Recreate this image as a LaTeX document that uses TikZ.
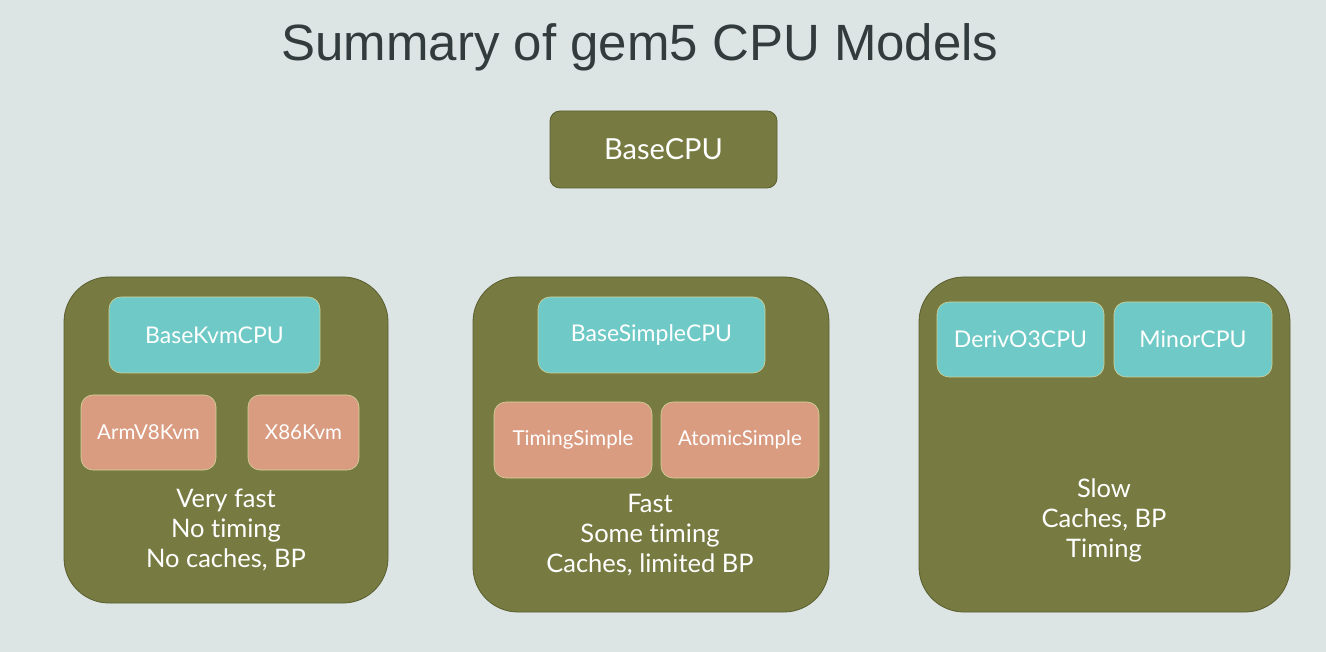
\documentclass[tikz,border=0pt]{standalone}
\usepackage{fontspec}
\setmainfont[Ligatures={NoCommon,NoRequired,NoContextual}]{Lato}
\newfontfamily\titlefont{Liberation Sans}
\definecolor{bgc}{HTML}{DCE4E4}
\definecolor{olive}{HTML}{777B41}
\definecolor{olivedark}{HTML}{5A5D2E}
\definecolor{tealc}{HTML}{6FC9C6}
\definecolor{salmon}{HTML}{DA9C81}
\definecolor{edgec}{HTML}{D2D39A}
\definecolor{titlec}{HTML}{323C3C}
\tikzset{
  groupbox/.style={draw=olivedark, line width=0.8pt, fill=olive, rounded corners=45pt, inner sep=0pt},
  basebox/.style={draw=olivedark, line width=0.8pt, fill=olive, rounded corners=10pt, inner sep=0pt, text=white, font=\fontsize{29}{34}\selectfont},
  tealbox/.style={draw=edgec, line width=0.6pt, fill=tealc, rounded corners=12pt, inner sep=0pt, text=white, font=\fontsize{23}{27}\selectfont},
  salmonbox/.style={draw=edgec, line width=0.6pt, fill=salmon, rounded corners=12pt, inner sep=0pt, text=white, font=\fontsize{20.5}{24}\selectfont},
  notes/.style={text=white, align=center, inner sep=0pt, font=\fontsize{25.5}{30}\selectfont},
}
\begin{document}
\begin{tikzpicture}[x=1pt,y=-1pt]
\fill[bgc] (0,0) rectangle (1326,652);
\useasboundingbox (0,0) rectangle (1326,652);
\node[anchor=base, text=titlec, font=\titlefont\fontsize{51}{56}\selectfont, inner sep=0pt] (title) at (640,61) {Summary of gem5 CPU Models};
\node[basebox, minimum width=227pt, minimum height=77pt] (base) at (663.5,149.5) {BaseCPU};
% left group
\node[groupbox, minimum width=324pt, minimum height=326pt] (gkvm) at (226,440) {};
\node[tealbox, minimum width=211pt, minimum height=76pt] (kvm) at (214.5,335) {BaseKvmCPU};
\node[salmonbox, minimum width=135pt, minimum height=75pt] (arm) at (148.5,432.5) {ArmV8Kvm};
\node[salmonbox, minimum width=111pt, minimum height=75pt] (x86) at (303.5,432.5) {X86Kvm};
\node[notes] (nkvm) at (226,530) {Very fast\\No timing\\No caches, BP};
% middle group
\node[groupbox, minimum width=356pt, minimum height=335pt] (gsimple) at (651,444.5) {};
\node[tealbox, minimum width=227pt, minimum height=76pt] (simple) at (651.5,335) {BaseSimpleCPU};
\node[salmonbox, minimum width=158pt, minimum height=76pt] (timing) at (573,440) {TimingSimple};
\node[salmonbox, minimum width=158pt, minimum height=76pt] (atomic) at (740,440) {AtomicSimple};
\node[notes] (nsimple) at (650,535) {Fast\\Some timing\\Caches, limited BP};
% right group
\node[groupbox, minimum width=371pt, minimum height=335pt] (gdet) at (1104.5,444.5) {};
\node[tealbox, minimum width=167pt, minimum height=75pt] (o3) at (1020.5,339.5) {DerivO3CPU};
\node[tealbox, minimum width=158pt, minimum height=75pt] (minor) at (1193,339.5) {MinorCPU};
\node[notes] (ndet) at (1104,520) {Slow\\Caches, BP\\Timing};
\end{tikzpicture}
\end{document}
